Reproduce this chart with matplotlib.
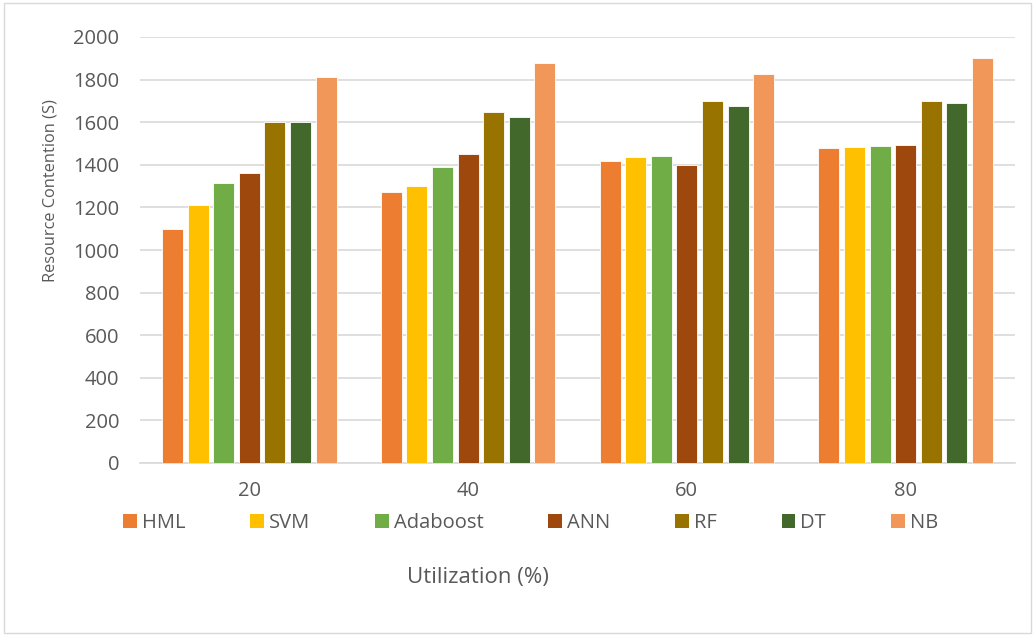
import numpy as np
from matplotlib import pyplot as plt
from matplotlib.patches import Patch, Rectangle

# Valores por grupo de utilizacao
categorias = ['20', '40', '60', '80']
modelos = ['HML', 'SVM', 'Adaboost', 'ANN', 'RF', 'DT', 'NB']
hml = [1100, 1270, 1420, 1478]
svm = [1210, 1300, 1435, 1485]
adaboost = [1315, 1390, 1440, 1490]
ann = [1360, 1450, 1400, 1495]
rf = [1600, 1650, 1700, 1700]
dt = [1600, 1625, 1675, 1688]
nb = [1810, 1880, 1825, 1900]

cores = ['#ED7D31', '#FFC000', '#70AD47', '#9E480E', '#997300', '#43682B', '#F1975A']
cinza = '#595959'


def main():
    plt.rcParams['font.family'] = ['Open Sans', 'DejaVu Sans']
    series = [hml, svm, adaboost, ann, rf, dt, nb]

    fig = plt.figure(figsize=(10.35, 6.36), dpi=100)
    ax = fig.add_axes([140 / 1035, 1 - 463 / 636, 875 / 1035, 426 / 636])

    x = np.arange(len(categorias))
    passo = 0.117
    for i, (vals, cor) in enumerate(zip(series, cores)):
        desloc = (i - 3) * passo
        ax.bar(x + desloc, vals, width=0.096, color=cor,
               edgecolor='white', linewidth=0.6, zorder=3)

    ax.set_xlim(-0.5, 3.5)
    ax.set_ylim(0, 2000)
    ax.set_yticks(range(0, 2001, 200))
    ax.set_xticks(x)
    ax.set_xticklabels(categorias)
    ax.tick_params(axis='both', length=0, labelsize=14.5, colors=cinza)
    ax.tick_params(axis='x', pad=13)
    ax.tick_params(axis='y', pad=15)
    ax.grid(axis='y', color='#D9D9D9', linewidth=1.2, zorder=0)
    for lado in ['top', 'right', 'left']:
        ax.spines[lado].set_visible(False)
    ax.spines['bottom'].set_color('#D9D9D9')
    ax.spines['bottom'].set_linewidth(1.2)

    fig.text(51 / 1035, 1 - 191 / 636, 'Resource Contention (S)', fontsize=11.8,
             color=cinza, rotation=90, ha='center', va='center')

    handles = [Patch(facecolor=c, edgecolor='none') for c in cores]
    fig.legend(handles, modelos, loc='center', bbox_to_anchor=(0.5126, 1 - 523 / 636),
               ncol=7, frameon=False, fontsize=14.5, handlelength=0.68,
               handleheight=0.68, handletextpad=0.25, columnspacing=3.22,
               labelcolor=cinza, borderaxespad=0, borderpad=0)

    fig.text(478 / 1035, 1 - 577 / 636, 'Utilization (%)', fontsize=16, color=cinza,
             ha='center', va='center')

    # borda externa
    fig.patches.append(Rectangle((0.004, 0.004), 0.992, 0.992, transform=fig.transFigure,
                                 fill=False, edgecolor='#D9D9D9', linewidth=1.0))

    fig.savefig('out.png', dpi=100)


if __name__ == "__main__":
    main()
